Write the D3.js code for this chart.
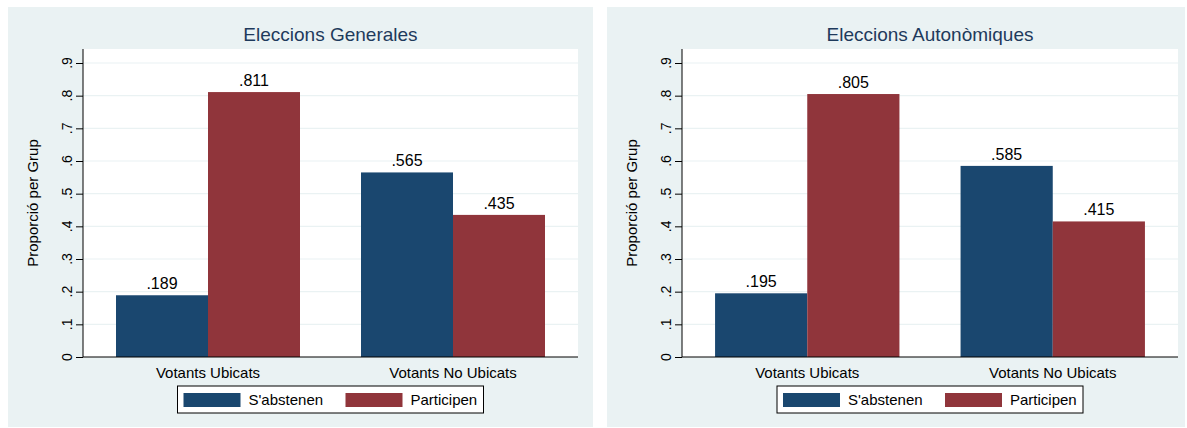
<!DOCTYPE html>
<html><head><meta charset="utf-8">
<script src="https://cdn.jsdelivr.net/npm/d3@7"></script>
<style>
body{margin:0;background:#fff;}
svg{display:block;font-family:"Liberation Sans",Arial,sans-serif;}
</style></head>
<body><svg id="c" width="1187" height="428"></svg>
<script>
const categories = ["Votants Ubicats", "Votants No Ubicats"];
const seriesNames = ["S'abstenen", "Participen"];
const generalsAbst = [0.189, 0.565];
const generalsPart = [0.811, 0.435];
const autonAbst = [0.195, 0.585];
const autonPart = [0.805, 0.415];
const yTicks = [0, 0.1, 0.2, 0.3, 0.4, 0.5, 0.6, 0.7, 0.8, 0.9];
const yTickLabels = ["0", ".1", ".2", ".3", ".4", ".5", ".6", ".7", ".8", ".9"];
const titles = ["Eleccions Generales", "Eleccions Autonòmiques"];
const yTitle = "Proporció per Grup";

const colors = ["#1a476f", "#90353b"];
const bg = "#eaf2f3";
const svg = d3.select("#c");

function fmt(v){ return d3.format(".3f")(v).replace(/^0/, ""); }

function panel(p){
  const g = svg.append("g");
  g.append("rect").attr("x", p.bx0).attr("y", 7).attr("width", p.bx1 - p.bx0).attr("height", 420).attr("fill", bg);
  const top = 49, bottom = 357;
  const y = d3.scaleLinear().domain([0, 0.9]).range([bottom, 63]);
  const x0 = d3.scaleBand().domain(categories).range([p.px0, p.px1]).paddingInner(0.249).paddingOuter(0.1347);
  const x1 = d3.scaleBand().domain(seriesNames).range([0, x0.bandwidth()]);
  g.append("rect").attr("x", p.px0).attr("y", top).attr("width", p.px1 - p.px0).attr("height", bottom - top).attr("fill", "#fff");
  // gridlines
  g.selectAll(".grid").data(yTicks.slice(1)).join("line")
    .attr("x1", p.px0).attr("x2", p.px1).attr("y1", d => y(d)).attr("y2", d => y(d))
    .attr("stroke", bg).attr("stroke-width", 1.2);
  // bars
  const data = [];
  categories.forEach((c, i) => {
    data.push({c, s: seriesNames[0], v: p.a[i], col: colors[0]});
    data.push({c, s: seriesNames[1], v: p.b[i], col: colors[1]});
  });
  g.selectAll(".bar").data(data).join("rect")
    .attr("x", d => x0(d.c) + x1(d.s)).attr("width", x1.bandwidth())
    .attr("y", d => y(d.v)).attr("height", d => y(0) - y(d.v)).attr("fill", d => d.col);
  g.selectAll(".vl").data(data).join("text")
    .attr("x", d => x0(d.c) + x1(d.s) + x1.bandwidth() / 2).attr("y", d => y(d.v) - 6)
    .attr("text-anchor", "middle").attr("font-size", 16).attr("fill", "#000").text(d => fmt(d.v));
  // y axis
  const ax = g.append("g").attr("transform", `translate(${p.px0},0)`)
    .call(d3.axisLeft(y).tickValues(yTicks).tickSize(7).tickFormat((d, i) => ""));
  ax.select(".domain").attr("d", `M0,${top}V${bottom}`).attr("stroke", "#000");
  ax.selectAll(".tick line").attr("stroke", "#000");
  g.selectAll(".yl").data(yTicks).join("text")
    .attr("transform", (d) => `translate(${p.px0 - 11},${y(d)}) rotate(-90)`)
    .attr("text-anchor", "middle").attr("font-size", 14).attr("fill", "#000")
    .text((d, i) => yTickLabels[i]);
  // x axis line
  g.append("line").attr("x1", p.px0).attr("x2", p.px1).attr("y1", bottom).attr("y2", bottom).attr("stroke", "#000");
  g.selectAll(".xl").data(categories).join("text")
    .attr("x", d => x0(d) + x0.bandwidth() / 2).attr("y", 378)
    .attr("text-anchor", "middle").attr("font-size", 15).attr("fill", "#000").text(d => d);
  // titles
  g.append("text").attr("x", (p.px0 + p.px1) / 2).attr("y", 41).attr("text-anchor", "middle")
    .attr("font-size", 19).attr("fill", "#1e3a5c").text(p.title);
  g.append("text").attr("transform", `translate(${p.px0 - 45},${(top + bottom) / 2}) rotate(-90)`)
    .attr("text-anchor", "middle").attr("font-size", 15).attr("fill", "#000").text(yTitle);
  // legend
  const cx = (p.px0 + p.px1) / 2;
  const lx = cx - 153;
  const lg = g.append("g").attr("transform", `translate(${lx},386)`);
  lg.append("rect").attr("x", 0).attr("y", 0).attr("width", 306).attr("height", 27).attr("fill", "#fff").attr("stroke", "#000");
  seriesNames.forEach((s, i) => {
    const ox = 6 + i * 162;
    lg.append("rect").attr("x", ox).attr("y", 7).attr("width", 57).attr("height", 14).attr("fill", colors[i]);
    lg.append("text").attr("x", ox + 65).attr("y", 19).attr("font-size", 15).attr("fill", "#000").text(s);
  });
}

panel({bx0: 8, bx1: 593, px0: 83, px1: 578, a: generalsAbst, b: generalsPart, title: titles[0]});
panel({bx0: 607, bx1: 1185, px0: 682, px1: 1178, a: autonAbst, b: autonPart, title: titles[1]});
</script></body></html>
